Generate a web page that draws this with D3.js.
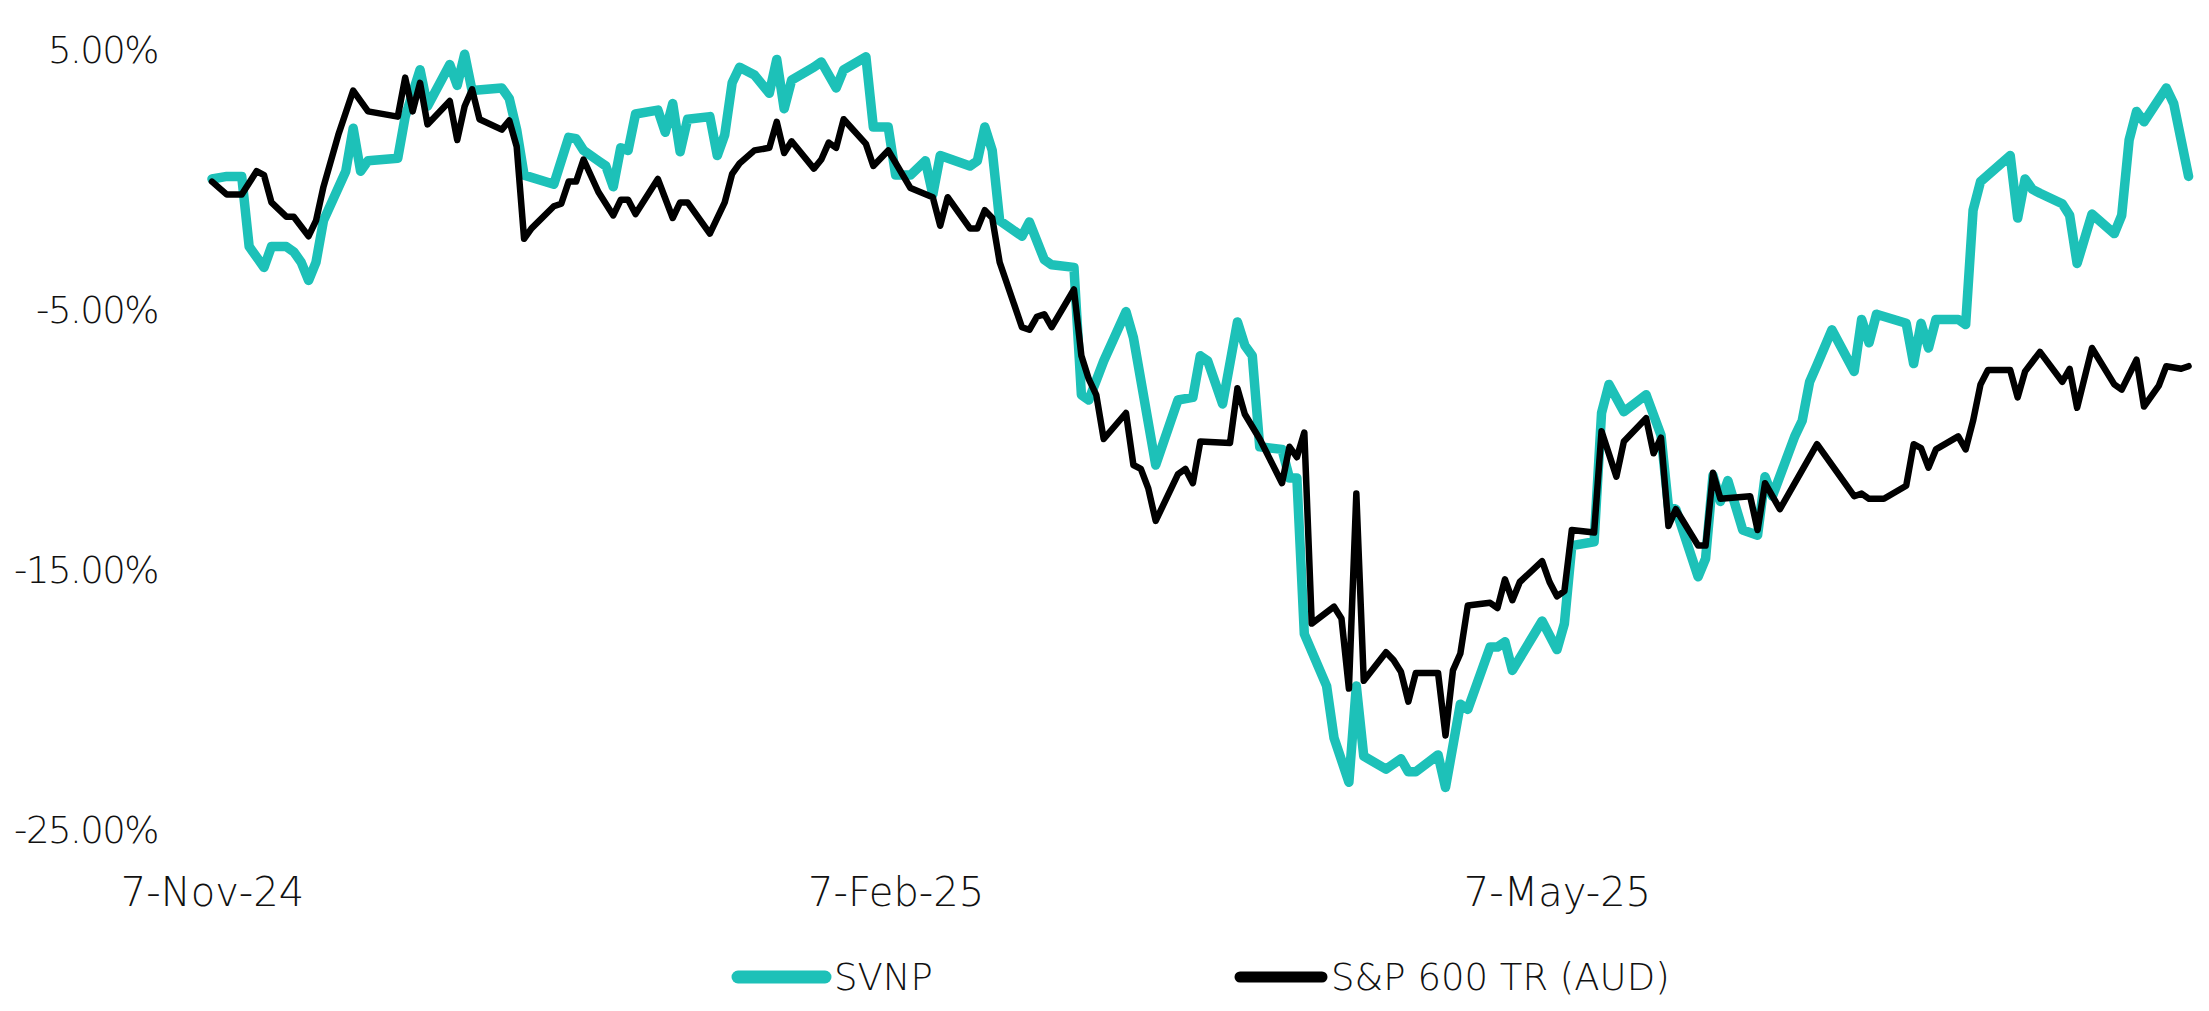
<!DOCTYPE html>
<html>
<head>
<meta charset="utf-8">
<script src="https://cdn.jsdelivr.net/npm/d3@7.9.0/dist/d3.min.js"></script>
<style>
  body { margin: 0; background: #fff; }
  text { font-family: 'DejaVu Sans', sans-serif; font-weight: 200; fill: #111; }
</style>
</head>
<body>
<svg id="chart"></svg>
<script>
// Series (cumulative return, %)
const svnpDates = [
  '2024-11-07','2024-11-09','2024-11-11','2024-11-12','2024-11-14','2024-11-15','2024-11-17','2024-11-18',
  '2024-11-19','2024-11-20','2024-11-21','2024-11-22','2024-11-25','2024-11-26','2024-11-27','2024-11-28',
  '2024-12-02','2024-12-03','2024-12-05','2024-12-06','2024-12-09','2024-12-10','2024-12-11','2024-12-12',
  '2024-12-16','2024-12-17','2024-12-18','2024-12-19','2024-12-23','2024-12-25','2024-12-26','2024-12-27',
  '2024-12-29','2024-12-30','2024-12-31','2025-01-01','2025-01-02','2025-01-03','2025-01-06','2025-01-07',
  '2025-01-08','2025-01-09','2025-01-10','2025-01-13','2025-01-14','2025-01-15','2025-01-16','2025-01-17',
  '2025-01-19','2025-01-21','2025-01-22','2025-01-23','2025-01-24','2025-01-27','2025-01-28','2025-01-30',
  '2025-01-31','2025-02-03','2025-02-04','2025-02-06','2025-02-07','2025-02-09','2025-02-11','2025-02-12',
  '2025-02-13','2025-02-17','2025-02-18','2025-02-19','2025-02-20','2025-02-21','2025-02-24','2025-02-25',
  '2025-02-27','2025-02-28','2025-03-03','2025-03-04','2025-03-05','2025-03-07','2025-03-10','2025-03-11',
  '2025-03-14','2025-03-17','2025-03-19','2025-03-20','2025-03-21','2025-03-23','2025-03-25','2025-03-26',
  '2025-03-27','2025-03-28','2025-03-31','2025-04-01','2025-04-02','2025-04-03','2025-04-06','2025-04-07',
  '2025-04-09','2025-04-10','2025-04-11','2025-04-14','2025-04-16','2025-04-17','2025-04-18','2025-04-21',
  '2025-04-22','2025-04-24','2025-04-25','2025-04-28','2025-04-29','2025-04-30','2025-05-01','2025-05-05',
  '2025-05-07','2025-05-08','2025-05-09','2025-05-12','2025-05-13','2025-05-14','2025-05-16','2025-05-19',
  '2025-05-21','2025-05-22','2025-05-23','2025-05-26','2025-05-27','2025-05-28','2025-05-29','2025-05-30',
  '2025-06-01','2025-06-03','2025-06-04','2025-06-05','2025-06-08','2025-06-09','2025-06-10','2025-06-11',
  '2025-06-13','2025-06-16','2025-06-17','2025-06-18','2025-06-19','2025-06-23','2025-06-24','2025-06-25',
  '2025-06-26','2025-06-27','2025-06-30','2025-07-01','2025-07-02','2025-07-03','2025-07-07','2025-07-08',
  '2025-07-09','2025-07-10','2025-07-11','2025-07-14','2025-07-15','2025-07-16','2025-07-18','2025-07-21',
  '2025-07-22','2025-07-23','2025-07-24','2025-07-25','2025-07-28','2025-07-29','2025-07-30','2025-07-31'
];
const svnpValues = [
  0.0, 0.1, 0.1, -2.6, -3.4, -2.6, -2.6, -2.8,
  -3.2, -3.9, -3.2, -1.6, 0.3, 1.95, 0.3, 0.7,
  0.8, 2.4, 4.2, 2.8, 4.4, 3.6, 4.8, 3.4,
  3.5, 3.1, 1.9, 0.15, -0.2, 1.6, 1.55, 1.1,
  0.7, 0.5, -0.3, 1.2, 1.1, 2.5, 2.65, 1.8,
  2.9, 1.05, 2.3, 2.4, 0.9, 1.7, 3.7, 4.3,
  4.0, 3.3, 4.6, 2.7, 3.8, 4.3, 4.5, 3.5,
  4.2, 4.7, 2.0, 2.0, 0.15, 0.15, 0.7, -0.6,
  0.9, 0.5, 0.7, 2.0, 1.1, -1.6, -2.2, -1.65,
  -3.1, -3.3, -3.4, -8.3, -8.5, -7.0, -5.1, -6.1,
  -11.0, -8.5, -8.4, -6.8, -7.0, -8.65, -5.5, -6.4,
  -6.8, -10.3, -10.4, -11.5, -11.5, -17.5, -19.5, -21.5,
  -23.2, -19.5, -22.2, -22.7, -22.3, -22.8, -22.8, -22.15,
  -23.4, -20.2, -20.4, -18.0, -18.0, -17.8, -18.9, -17.0,
  -18.1, -17.1, -14.1, -13.95, -9.0, -7.9, -8.95, -8.3,
  -9.85, -12.6, -12.7, -15.3, -14.6, -11.4, -12.4, -11.6,
  -13.5, -13.7, -11.45, -12.2, -9.9, -9.3, -7.8, -7.15,
  -5.8, -7.4, -5.4, -6.3, -5.2, -5.55, -7.1, -5.55,
  -6.5, -5.4, -5.4, -5.6, -1.2, -0.1, 0.9, -1.5,
  0.0, -0.4, -0.55, -0.95, -1.4, -3.25, -1.35, -2.1,
  -1.4, 1.5, 2.6, 2.2, 3.5, 2.9, 1.5, 0.1
];

const spDates = [
  '2024-11-07','2024-11-09','2024-11-11','2024-11-13','2024-11-14','2024-11-15','2024-11-17','2024-11-18',
  '2024-11-20','2024-11-21','2024-11-22','2024-11-24','2024-11-26','2024-11-28','2024-12-02','2024-12-03',
  '2024-12-04','2024-12-05','2024-12-06','2024-12-09','2024-12-10','2024-12-11','2024-12-12','2024-12-13',
  '2024-12-16','2024-12-17','2024-12-18','2024-12-19','2024-12-20','2024-12-23','2024-12-24','2024-12-25',
  '2024-12-26','2024-12-27','2024-12-29','2024-12-31','2025-01-01','2025-01-02','2025-01-03','2025-01-06',
  '2025-01-08','2025-01-09','2025-01-10','2025-01-13','2025-01-15','2025-01-16','2025-01-17','2025-01-19',
  '2025-01-21','2025-01-22','2025-01-23','2025-01-24','2025-01-27','2025-01-28','2025-01-29','2025-01-30',
  '2025-01-31','2025-02-03','2025-02-04','2025-02-06','2025-02-09','2025-02-12','2025-02-13','2025-02-14',
  '2025-02-17','2025-02-18','2025-02-19','2025-02-20','2025-02-21','2025-02-24','2025-02-25','2025-02-26',
  '2025-02-27','2025-02-28','2025-03-03','2025-03-04','2025-03-05','2025-03-06','2025-03-07','2025-03-10',
  '2025-03-11','2025-03-12','2025-03-13','2025-03-14','2025-03-17','2025-03-18','2025-03-19','2025-03-20',
  '2025-03-24','2025-03-25','2025-03-26','2025-03-28','2025-03-31','2025-04-01','2025-04-02','2025-04-03',
  '2025-04-04','2025-04-07','2025-04-08','2025-04-09','2025-04-10','2025-04-11','2025-04-14','2025-04-15',
  '2025-04-16','2025-04-17','2025-04-18','2025-04-21','2025-04-22','2025-04-23','2025-04-24','2025-04-25',
  '2025-04-28','2025-04-29','2025-04-30','2025-05-01','2025-05-02','2025-05-05','2025-05-06','2025-05-07',
  '2025-05-08','2025-05-09','2025-05-12','2025-05-13','2025-05-15','2025-05-16','2025-05-19','2025-05-20',
  '2025-05-21','2025-05-22','2025-05-23','2025-05-26','2025-05-27','2025-05-28','2025-05-29','2025-06-02',
  '2025-06-03','2025-06-04','2025-06-06','2025-06-11','2025-06-16','2025-06-17','2025-06-18','2025-06-20',
  '2025-06-23','2025-06-24','2025-06-25','2025-06-26','2025-06-27','2025-06-30','2025-07-01','2025-07-02',
  '2025-07-03','2025-07-04','2025-07-07','2025-07-08','2025-07-09','2025-07-11','2025-07-14','2025-07-15',
  '2025-07-16','2025-07-18','2025-07-21','2025-07-22','2025-07-24','2025-07-25','2025-07-27','2025-07-28',
  '2025-07-30','2025-07-31'
];
const spValues = [
  -0.1, -0.6, -0.6, 0.3, 0.15, -0.9, -1.45, -1.45,
  -2.2, -1.6, -0.3, 1.7, 3.4, 2.6, 2.4, 3.9,
  2.6, 3.7, 2.1, 3.0, 1.5, 2.8, 3.45, 2.3,
  1.9, 2.25, 1.25, -2.3, -1.9, -1.05, -0.95, -0.1,
  -0.1, 0.75, -0.5, -1.4, -0.8, -0.8, -1.35, 0.0,
  -1.5, -0.9, -0.9, -2.1, -0.9, 0.2, 0.6, 1.1,
  1.2, 2.2, 1.0, 1.45, 0.4, 0.75, 1.4, 1.2,
  2.3, 1.35, 0.5, 1.1, -0.35, -0.7, -1.8, -0.7,
  -1.9, -1.9, -1.2, -1.5, -3.2, -5.7, -5.8, -5.3,
  -5.2, -5.7, -4.25, -6.8, -7.7, -8.3, -10.0, -9.0,
  -11.0, -11.15, -11.9, -13.15, -11.35, -11.15, -11.7, -10.1,
  -10.15, -8.05, -9.05, -10.0, -11.7, -10.3, -10.7, -9.75,
  -17.1, -16.45, -16.9, -19.6, -12.1, -19.3, -18.2, -18.5,
  -18.95, -20.1, -19.0, -19.0, -21.4, -18.9, -18.25, -16.4,
  -16.3, -16.5, -15.4, -16.2, -15.5, -14.7, -15.5, -16.05,
  -15.85, -13.5, -13.6, -9.7, -11.45, -10.1, -9.2, -10.55,
  -9.95, -13.35, -12.7, -14.1, -14.1, -11.3, -12.3, -12.2,
  -13.5, -11.7, -12.7, -10.2, -12.2, -12.1, -12.3, -12.3,
  -11.8, -10.2, -10.35, -11.1, -10.4, -9.9, -10.4, -9.3,
  -7.9, -7.35, -7.35, -8.4, -7.4, -6.65, -7.8, -7.3,
  -8.8, -6.5, -7.9, -8.1, -6.95, -8.75, -7.95, -7.2,
  -7.3, -7.2
];

const yTicks = [5, -5, -15, -25];
const xTicks = ['2024-11-07', '2025-02-07', '2025-05-07'];
const seriesNames = ['SVNP', 'S&P 600 TR (AUD)'];
const seriesColors = ['#1dc1b8', '#000000'];

const width = 2209;
const height = 1011;

const parse = d3.timeParse('%Y-%m-%d');

const svg = d3.select('#chart').attr('width', width).attr('height', height);

const xScale = d3
  .scaleTime()
  .domain([parse('2024-11-07'), parse('2025-08-01')])
  .range([212, 2196]);

const yScale = d3.scaleLinear().domain([5, -25]).range([49, 829]);

// y axis: labels only, no line or ticks
const yAxis = d3
  .axisLeft(yScale)
  .tickValues(yTicks)
  .tickSize(0)
  .tickPadding(0)
  .tickFormat((d) => d.toFixed(2) + '%');

svg
  .append('g')
  .attr('transform', 'translate(158, 0)')
  .call(yAxis)
  .call((g) => g.select('.domain').remove())
  .selectAll('text')
  .attr('dy', '0.36em')
  .style('font-size', '37px')
  .style('letter-spacing', '-1.5px')
  .style('font-family', null);

const xAxis = d3
  .axisBottom(xScale)
  .tickValues(xTicks.map(parse))
  .tickSize(0)
  .tickPadding(0)
  .tickFormat(d3.timeFormat('%-d-%b-%y'));

svg
  .append('g')
  .attr('transform', 'translate(0, 892)')
  .call(xAxis)
  .call((g) => g.select('.domain').remove())
  .selectAll('text')
  .attr('dy', '0.36em')
  .style('font-size', '40px')
  .style('font-family', null);

const line = d3
  .line()
  .x((d) => xScale(d.date))
  .y((d) => yScale(d.value));

const svnp = svnpDates.map((d, i) => ({ date: parse(d), value: svnpValues[i] }));
const sp = spDates.map((d, i) => ({ date: parse(d), value: spValues[i] }));

svg
  .append('path')
  .datum(svnp)
  .attr('d', line)
  .attr('fill', 'none')
  .attr('stroke', seriesColors[0])
  .attr('stroke-width', 9.5)
  .attr('stroke-linejoin', 'round')
  .attr('stroke-linecap', 'round');

svg
  .append('path')
  .datum(sp)
  .attr('d', line)
  .attr('fill', 'none')
  .attr('stroke', seriesColors[1])
  .attr('stroke-width', 6.5)
  .attr('stroke-linejoin', 'round')
  .attr('stroke-linecap', 'round');

// legend
const legendX = [738, 1240];
const legendLen = [87, 82];
const legend = svg
  .append('g')
  .selectAll('g')
  .data(seriesNames)
  .join('g')
  .attr('transform', (d, i) => `translate(${legendX[i]}, 977)`);

legend
  .append('line')
  .attr('x1', 0)
  .attr('x2', (d, i) => legendLen[i])
  .attr('stroke', (d, i) => seriesColors[i])
  .attr('stroke-width', (d, i) => (i === 0 ? 13 : 11))
  .attr('stroke-linecap', 'round');

legend
  .append('text')
  .attr('x', (d, i) => legendLen[i] + 9)
  .attr('dy', '0.36em')
  .style('font-size', '37px')
  .text((d) => d);
</script>
</body>
</html>
